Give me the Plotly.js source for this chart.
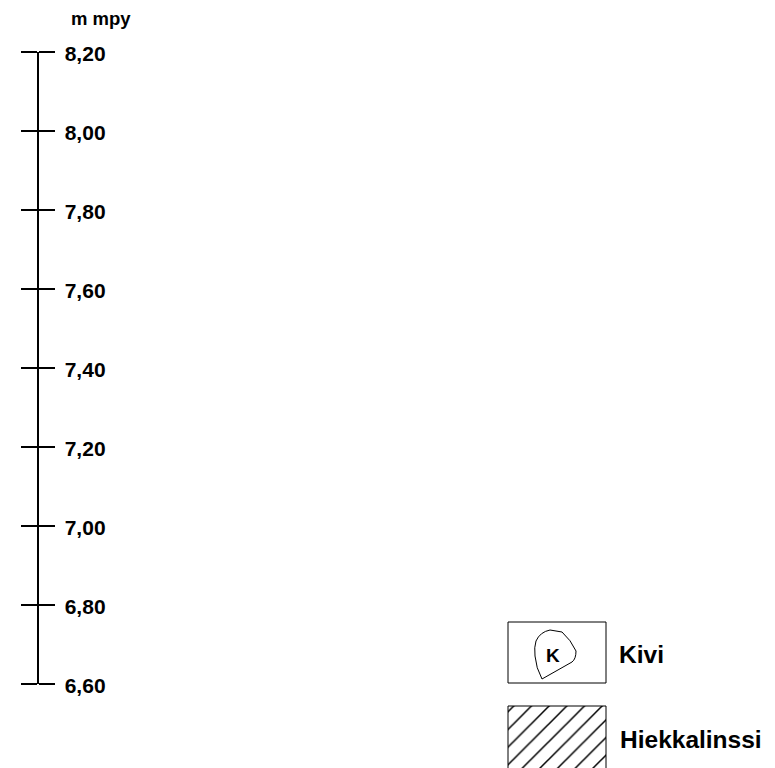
<!DOCTYPE html>
<html><head><meta charset="utf-8">
<script src="https://cdn.plot.ly/plotly-3.0.1.min.js"></script>
<style>html,body{margin:0;padding:0;background:#fff;overflow:hidden}</style>
</head><body><div id="chart" style="width:775px;height:768px"></div>
<script>
// ---- data ----
const elevations = [6.6, 6.8, 7.0, 7.2, 7.4, 7.6, 7.8, 8.0, 8.2];
const elevationLabels = ["6,60", "6,80", "7,00", "7,20", "7,40", "7,60", "7,80", "8,00", "8,20"];
const axisUnit = "m mpy";
const legendNames = ["Kivi", "Hiekkalinssi"];
const stoneSymbol = "K";

// ---- layout helpers (pixel geometry) ----
const W = 775, H = 768;
const axisX = 37;
const yTop = 52, yBottom = 684;
const FONT = "Liberation Sans, Arial, sans-serif";
const yMin = Math.min(...elevations), yMax = Math.max(...elevations);

const traces = [
  {x: [0, 0], y: [yMin, yMax], xaxis: 'x', yaxis: 'y', mode: 'lines', line: {width: 0}, hoverinfo: 'skip', showlegend: false},
  {x: [0, 0], y: [yMin, yMax], xaxis: 'x', yaxis: 'y2', mode: 'lines', line: {width: 0}, hoverinfo: 'skip', showlegend: false},
  // hatched swatch for Hiekkalinssi
  {x: [508, 606, 606, 508, 508], y: [706, 706, 772, 772, 706], xaxis: 'x3', yaxis: 'y3',
   mode: 'lines', fill: 'toself', line: {width: 0, color: 'rgba(0,0,0,0)'},
   fillcolor: 'white',
   fillpattern: {shape: '/', size: 12.5, solidity: 0.12, fgcolor: '#000', bgcolor: '#fff'},
   hoverinfo: 'skip', showlegend: false}
];

const commonY = {
  range: [yMin, yMax], tickvals: elevations, showgrid: false, zeroline: false,
  anchor: 'free', position: axisX / W, ticks: 'outside', ticklen: 16, tickwidth: 1.5, tickcolor: '#000',
  domain: [(H - yBottom) / H, (H - yTop) / H], fixedrange: true
};

const layout = {
  width: W, height: H, margin: {l: 0, r: 0, t: 0, b: 0},
  paper_bgcolor: '#fff', plot_bgcolor: 'rgba(0,0,0,0)', showlegend: false,
  font: {family: FONT, color: '#000'},
  xaxis: {domain: [0, 1], range: [0, W], visible: false, fixedrange: true},
  yaxis: Object.assign({}, commonY, {
    side: 'right', ticktext: elevationLabels, showline: true, linewidth: 1.5, linecolor: '#000',
    tickfont: {family: FONT, size: 21, color: '#000', weight: 'bold'}, ticklabelstandoff: 6, ticklabelshift: 2
  }),
  yaxis2: Object.assign({}, commonY, {side: 'left', overlaying: 'y', showticklabels: false, showline: false}),
  xaxis3: {domain: [0, 1], range: [0, W], visible: false, anchor: 'y3', fixedrange: true},
  yaxis3: {domain: [0, 1], range: [H, 0], visible: false, anchor: 'x3', fixedrange: true},
  shapes: [
    {type: 'rect', xref: 'x3', yref: 'y3', x0: 508, x1: 606, y0: 622, y1: 683, line: {color: '#000', width: 1}},
    {type: 'path', xref: 'x3', yref: 'y3',
     path: 'M 536,641 Q 540,632 550,630 L 562,632 Q 571,640 576,651 Q 576,659 572,662 L 542,679 Q 536,668 535,656 Q 534,647 536,641 Z',
     line: {color: '#000', width: 1}},
    {type: 'path', xref: 'x3', yref: 'y3', path: 'M 508,772 L 508,706 L 606,706 L 606,772', line: {color: '#000', width: 1}}
  ],
  annotations: [
    {xref: 'x3', yref: 'y3', x: 69, y: 18, xanchor: 'left', yanchor: 'middle', text: axisUnit, showarrow: false, font: {family: FONT, size: 18.5, weight: 'bold'}},
    {xref: 'x3', yref: 'y3', x: 553, y: 655, xanchor: 'center', yanchor: 'middle', text: stoneSymbol, showarrow: false, font: {family: FONT, size: 19, weight: 'bold'}},
    {xref: 'x3', yref: 'y3', x: 617, y: 654, xanchor: 'left', yanchor: 'middle', text: legendNames[0], showarrow: false, font: {family: FONT, size: 24.5, weight: 'bold'}},
    {xref: 'x3', yref: 'y3', x: 618, y: 739, xanchor: 'left', yanchor: 'middle', text: legendNames[1], showarrow: false, font: {family: FONT, size: 24.5, weight: 'bold'}}
  ]
};

Plotly.newPlot('chart', traces, layout, {staticPlot: true, displayModeBar: false});
</script>
</body></html>
